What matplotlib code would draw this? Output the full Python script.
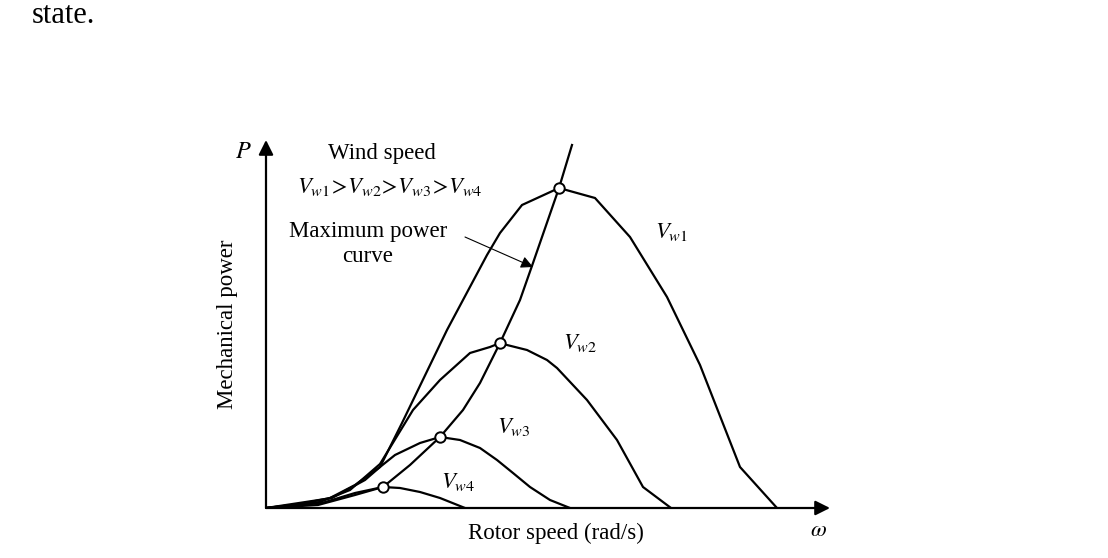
import matplotlib
matplotlib.use("Agg")
import matplotlib.pyplot as plt

plt.rcParams['font.family'] = ['Liberation Serif', 'DejaVu Serif']
plt.rcParams['mathtext.fontset'] = 'stix'

# power curves for four wind speeds (rotor speed, mechanical power), arbitrary units
w_vw1 = [0, 34, 64, 89, 114, 136, 181, 221, 234, 256, 293, 329, 364, 401, 434, 474, 511]
p_vw1 = [0, 4, 10, 23, 41, 85, 178, 253, 275, 303, 320, 310, 271, 211, 143, 41, 0]

w_vw2 = [0, 54, 84, 114, 147, 174, 204, 224, 234, 241, 261, 281, 291, 321, 351, 377, 405]
p_vw2 = [0, 6, 18, 44, 98, 128, 155, 161, 165, 163, 158, 148, 140, 108, 68, 21, 0]

w_vw3 = [0, 66, 99, 114, 129, 154, 174, 194, 214, 231, 247, 264, 284, 304]
p_vw3 = [0, 10, 28, 41, 53, 65, 71, 68, 60, 48, 35, 21, 8, 0]

w_vw4 = [0, 56, 89, 117, 134, 154, 174, 199]
p_vw4 = [0, 5, 15, 21, 20, 16, 10, 0]

# maximum power curve and the optimum points on it
w_mpp = [0, 52, 89, 117, 144, 174, 197, 214, 234, 254, 267, 293, 306]
p_mpp = [0, 3, 13, 21, 43, 71, 98, 125, 165, 208, 245, 320, 363]
w_opt = [293, 234, 174, 117]
p_opt = [320, 165, 71, 21]

curve_labels = [r'$V_{w1}$', r'$V_{w2}$', r'$V_{w3}$', r'$V_{w4}$']

fig = plt.figure(figsize=(11.08, 5.58), dpi=100)
ax = fig.add_axes([266 / 1108, 50 / 558, 564 / 1108, 368 / 558])
ax.set_xlim(0, 564)
ax.set_ylim(0, 368)

for w, p in [(w_vw1, p_vw1), (w_vw2, p_vw2), (w_vw3, p_vw3), (w_vw4, p_vw4), (w_mpp, p_mpp)]:
    ax.plot(w, p, color='black', lw=1.6, solid_joinstyle='miter', zorder=2)
ax.plot(w_opt, p_opt, 'o', ms=7.5, mfc='white', mec='black', mew=1.4, zorder=3)

# axes drawn as arrows
for s in ax.spines.values():
    s.set_visible(False)
ax.set_xticks([])
ax.set_yticks([])
arrow = dict(arrowstyle='-|>', color='black', lw=1.6, mutation_scale=22, shrinkA=0, shrinkB=0)
ax.annotate('', xy=(1, 0), xytext=(0, 0), xycoords='axes fraction', arrowprops=arrow)
ax.annotate('', xy=(0, 1), xytext=(0, 0), xycoords='axes fraction', arrowprops=arrow)

fs = 16.5
ax.set_xlabel('Rotor speed (rad/s)', fontsize=fs, va='center')
ax.xaxis.set_label_coords(0.514, -0.068)
ax.set_ylabel('Mechanical power', fontsize=fs, va='center')
ax.yaxis.set_label_coords(-0.068, 0.5)

ax.text(-23, 355, r'$P$', fontsize=fs + 1, ha='center', va='center')
ax.text(552, -22, r'$\omega$', fontsize=fs, ha='center', va='center')
ax.text(116, 355, 'Wind speed', fontsize=fs, ha='center', va='center')
ax.text(124, 321, r'$V_{w1}\!>\!V_{w2}\!>\!V_{w3}\!>\!V_{w4}$', fontsize=fs, ha='center', va='center')
ax.text(102, 264, 'Maximum power\ncurve', fontsize=fs, ha='center', va='center', linespacing=1.25)
ax.annotate('', xy=(267, 241), xytext=(199, 271),
            arrowprops=dict(arrowstyle='-|>', color='black', lw=0.8, mutation_scale=18, shrinkA=0, shrinkB=0))

label_pos = [(406, 276), (314, 165), (248, 81), (192, 26)]
for lab, (lx, ly) in zip(curve_labels, label_pos):
    ax.text(lx, ly, lab, fontsize=fs, ha='center', va='center')

fig.text(32 / 1108, 1 - 23 / 558, 'state.', fontsize=22, ha='left', va='baseline')

fig.savefig('out.png', dpi=100, facecolor='white')
